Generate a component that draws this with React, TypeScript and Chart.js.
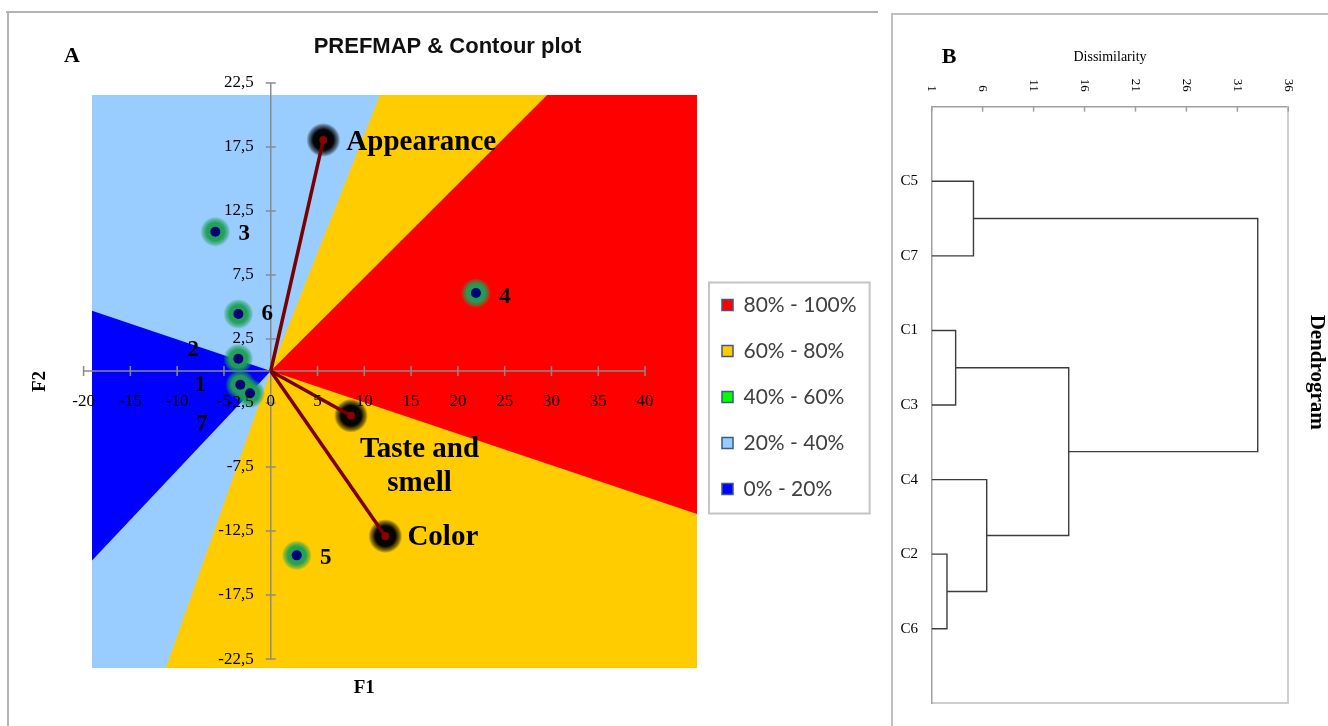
import React, { useEffect, useRef } from 'react';
import { Chart, registerables } from 'chart.js';

Chart.register(...registerables);

// ---------------- Panel A : PREFMAP & contour plot ----------------
const regionLabels = ['80% - 100%', '60% - 80%', '40% - 60%', '20% - 40%', '0% - 20%'];
const regionColors = ['#ff0000', '#ffcc00', '#00ff00', '#99ccff', '#0000ff'];

// contour region vertices (F1, F2)
const redF1 = [0, 29.6, 45.9, 45.9];
const redF2 = [0, 21.6, 21.6, -11.25];
const yellowF1 = [-19.1, -19.1, 45.9, 45.9];
const yellowF2 = [21.6, -23.2, -23.2, 21.6];
const greenF1: number[] = [];
const greenF2: number[] = [];
const lightBlueF1 = [-19.1, -19.1, -11.2, 0, 11.7];
const lightBlueF2 = [21.6, -23.2, -23.2, 0, 21.6];
const blueF1 = [-19.1, -19.1, 0];
const blueF2 = [4.7, -14.8, 0];

const consumerNames = ['1', '2', '3', '4', '5', '6', '7'];
const consumerF1 = [-3.25, -3.46, -5.92, 21.93, 2.78, -3.46, -2.21];
const consumerF2 = [-1.07, 0.96, 10.88, 6.09, -14.4, 4.45, -1.74];

const attributeLines = [['Appearance'], ['Taste and', 'smell'], ['Color']];
const attributeF1 = [5.62, 8.58, 12.25];
const attributeF2 = [18.05, -3.49, -12.9];

const f1Ticks = [-20, -15, -10, -5, 0, 5, 10, 15, 20, 25, 30, 35, 40];
const f2Ticks = [22.5, 17.5, 12.5, 7.5, 2.5, -2.5, -7.5, -12.5, -17.5, -22.5];

// label placement (pixels, relative to the point)
const consumerLabelDx = [-40, -45, 29, 29, 29, 29, -48];
const consumerLabelDy = [0, -9, 2, 4, 3, 0, 31];
const attributeLabelDx = [23, 68.5, 22];
const attributeLabelDy = [3, 34, 1];
const attributeLabelAlign = ['left', 'center', 'left'];

// ---------------- Panel B : dendrogram ----------------
const leafNames = ['C5', 'C7', 'C1', 'C3', 'C4', 'C2', 'C6'];
const dissimilarityTicks = [1, 6, 11, 16, 21, 26, 31, 36];
const mergeLeft = ['C2', 'C1', 'C5', 'C4', 'N2', 'N3'];
const mergeRight = ['C6', 'C3', 'C7', 'N1', 'N4', 'N5'];
const mergeDissimilarity = [2.5, 3.35, 5.1, 6.4, 14.45, 33];

const fmt = (v: number) => String(v).replace('.', ',');
const pts = (xs: number[], ys: number[]) => xs.map((x, i) => ({ x, y: ys[i] }));

const SERIF = '"Liberation Serif", "Times New Roman", serif';

function regionDataset(i: number, xs: number[], ys: number[], order: number): any {
  return {
    type: 'line',
    label: regionLabels[i],
    legendKey: i,
    data: pts(xs, ys),
    backgroundColor: regionColors[i],
    borderColor: regionColors[i],
    borderWidth: 0,
    pointRadius: 0,
    pointHoverRadius: 0,
    fill: 'shape',
    tension: 0,
    order,
  };
}

// soft halo drawn as a radial gradient centred on each point
function halo(rgb: string, radius: number, core: number) {
  return (c: any) => {
    const ch = c.chart;
    const raw = c.raw;
    if (!raw || !ch.scales || !ch.scales.x) return 'rgba(0,0,0,0)';
    const x = ch.scales.x.getPixelForValue(raw.x);
    const y = ch.scales.y.getPixelForValue(raw.y);
    if (!isFinite(x) || !isFinite(y)) return 'rgba(0,0,0,0)';
    const g = ch.ctx.createRadialGradient(x, y, 0, x, y, radius);
    g.addColorStop(0, `rgba(${rgb},1)`);
    g.addColorStop(core, `rgba(${rgb},0.97)`);
    g.addColorStop(0.85, `rgba(${rgb},0.45)`);
    g.addColorStop(1, `rgba(${rgb},0)`);
    return g;
  };
}

const panelAPlugin: any = {
  id: 'panelA',
  afterDatasetDraw(chart: any, args: any) {
    if (args.index !== 0) return;
    // axes through the origin, with crossing tick marks
    const ctx = chart.ctx;
    const xs = chart.scales.x;
    const ys = chart.scales.y;
    const x0 = xs.getPixelForValue(0);
    const y0 = ys.getPixelForValue(0);
    ctx.save();
    ctx.strokeStyle = '#8a8a8a';
    ctx.lineWidth = 1.5;
    ctx.beginPath();
    ctx.moveTo(xs.getPixelForValue(f1Ticks[0]), y0);
    ctx.lineTo(xs.getPixelForValue(f1Ticks[f1Ticks.length - 1]), y0);
    ctx.moveTo(x0, ys.getPixelForValue(f2Ticks[0]));
    ctx.lineTo(x0, ys.getPixelForValue(f2Ticks[f2Ticks.length - 1]));
    f1Ticks.forEach((v) => {
      const x = xs.getPixelForValue(v);
      ctx.moveTo(x, y0 - 5);
      ctx.lineTo(x, y0 + 5);
    });
    f2Ticks.forEach((v) => {
      const y = ys.getPixelForValue(v);
      ctx.moveTo(x0 - 5, y);
      ctx.lineTo(x0 + 5, y);
    });
    ctx.stroke();
    ctx.restore();
  },
  afterDatasetsDraw(chart: any) {
    const ctx = chart.ctx;
    ctx.save();
    ctx.fillStyle = '#000';
    ctx.textBaseline = 'middle';
    const cMeta = chart.getDatasetMeta(6);
    ctx.font = `bold 23px ${SERIF}`;
    ctx.textAlign = 'center';
    consumerNames.forEach((n, i) => {
      const p = cMeta.data[i];
      if (p) ctx.fillText(n, p.x + consumerLabelDx[i], p.y + consumerLabelDy[i]);
    });
    const aMeta = chart.getDatasetMeta(8);
    ctx.font = `bold 29px ${SERIF}`;
    attributeLines.forEach((lines, i) => {
      const p = aMeta.data[i];
      if (!p) return;
      ctx.textAlign = attributeLabelAlign[i];
      lines.forEach((t, k) => {
        ctx.fillText(t, p.x + attributeLabelDx[i], p.y + attributeLabelDy[i] + k * 34);
      });
    });
    ctx.restore();
  },
  afterDraw(chart: any) {
    const ctx = chart.ctx;
    const a = chart.chartArea;
    const xs = chart.scales.x;
    ctx.save();
    ctx.textBaseline = 'middle';
    ctx.textAlign = 'center';
    // title
    ctx.font = 'bold 22px "Liberation Sans", Arial, sans-serif';
    ctx.fillStyle = '#111';
    ctx.fillText('PREFMAP & Contour plot', 438.5, 33);
    ctx.fillStyle = '#000';
    // panel letter
    ctx.font = `bold 22px ${SERIF}`;
    ctx.fillText('A', 63, 42);
    // axis titles
    ctx.font = `bold 19px ${SERIF}`;
    const fx = (xs.getPixelForValue(f1Ticks[0]) + xs.getPixelForValue(f1Ticks[f1Ticks.length - 1])) / 2;
    ctx.fillText('F1', fx, a.bottom + 20);
    ctx.save();
    ctx.translate(31, (a.top + a.bottom) / 2);
    ctx.rotate(-Math.PI / 2);
    ctx.fillText('F2', 0, 0);
    ctx.restore();
    // legend frame
    const hb = chart.legend && chart.legend.legendHitBoxes;
    if (hb && hb.length) {
      let l = Infinity, t = Infinity, r = -Infinity, b = -Infinity;
      hb.forEach((h: any) => {
        l = Math.min(l, h.left);
        t = Math.min(t, h.top);
        r = Math.max(r, h.left + h.width);
        b = Math.max(b, h.top + h.height);
      });
      ctx.strokeStyle = '#c4c4c4';
      ctx.lineWidth = 2;
      ctx.strokeRect(l - 13, t - 12, r - l + 26, b - t + 26);
    }
    ctx.restore();
  },
};

function PanelA() {
  const ref = useRef<HTMLCanvasElement>(null);
  useEffect(() => {
    const canvas = ref.current;
    if (!canvas) return;
    const m = document.createElement('canvas').getContext('2d') as CanvasRenderingContext2D;
    const legendFont = 21;
    const legendPad = 25;
    const boxW = 11;
    m.font = `${legendFont}px Lato`;
    const tw = Math.max(...regionLabels.map((t) => m.measureText(t).width));
    const chartRight = 688;
    const padRight = 868 - chartRight - (legendPad + boxW + legendFont / 2 + tw + 10);

    const datasets: any[] = [
      regionDataset(0, redF1, redF2, 7),
      regionDataset(1, yellowF1, yellowF2, 10),
      regionDataset(2, greenF1, greenF2, 6),
      regionDataset(3, lightBlueF1, lightBlueF2, 9),
      regionDataset(4, blueF1, blueF2, 8),
      {
        type: 'scatter', label: 'consumers-glow', legendKey: -1,
        data: pts(consumerF1, consumerF2), pointRadius: 15, pointHoverRadius: 15,
        backgroundColor: halo('30,160,85', 15, 0.6), borderWidth: 0, order: 5,
      },
      {
        type: 'scatter', label: 'consumers', legendKey: -1,
        data: pts(consumerF1, consumerF2), pointRadius: 5, pointHoverRadius: 5,
        backgroundColor: '#00007a', borderWidth: 0, order: 1,
      },
      {
        type: 'scatter', label: 'attributes-glow', legendKey: -1,
        data: pts(attributeF1, attributeF2), pointRadius: 17, pointHoverRadius: 17,
        backgroundColor: halo('0,0,0', 17, 0.6), borderWidth: 0, order: 4,
      },
      {
        type: 'scatter', label: 'attributes', legendKey: -1,
        data: pts(attributeF1, attributeF2), pointRadius: 4, pointHoverRadius: 4,
        backgroundColor: '#8b0000', borderWidth: 0, order: 2,
      },
      ...attributeF1.map((x, i) => ({
        type: 'line', label: 'vector ' + i, legendKey: -1,
        data: [{ x: 0, y: 0 }, { x, y: attributeF2[i] }],
        borderColor: '#7a0000', borderWidth: 3.5, pointRadius: 0, pointHoverRadius: 0,
        fill: false, tension: 0, order: 3,
      })),
    ];

    const chart = new Chart(canvas, {
      type: 'scatter',
      data: { datasets },
      options: {
        responsive: false,
        animation: false,
        events: [],
        layout: { padding: { left: 83, top: 81, right: padRight, bottom: 58 } },
        scales: {
          x: {
            type: 'linear', min: -19.1, max: 45.55, position: { y: 0 } as any,
            afterBuildTicks: (s: any) => { s.ticks = f1Ticks.map((v) => ({ value: v })); },
            ticks: {
              z: 1, autoSkip: false, maxRotation: 0, minRotation: 0, padding: 12, color: '#000',
              font: { family: SERIF, size: 17 },
              callback: (v: any) => fmt(Number(v)),
            },
            grid: { display: false },
            border: { display: false },
          },
          y: {
            type: 'linear', min: -23.2, max: 21.56, position: { x: 0 } as any,
            afterBuildTicks: (s: any) => { s.ticks = f2Ticks.map((v) => ({ value: v })); },
            ticks: {
              z: 1, autoSkip: false, padding: 0, color: '#000',
              font: { family: SERIF, size: 17 },
              callback: (v: any) => fmt(Number(v)) + '    ',
            },
            grid: { display: false },
            border: { display: false },
          },
        },
        plugins: {
          tooltip: { enabled: false },
          title: { display: false },
          legend: {
            display: true,
            position: 'right',
            align: 'center',
            title: { display: true, text: '', font: { size: 12 }, padding: { top: 0, bottom: 16.6 } },
            labels: {
              boxWidth: boxW,
              boxHeight: 11,
              padding: legendPad,
              color: '#404040',
              font: { family: 'Lato', size: legendFont },
              generateLabels: (ch: any) => {
                const items = (Chart.defaults.plugins.legend.labels as any).generateLabels(ch);
                return items
                  .filter((it: any) => (ch.data.datasets[it.datasetIndex] as any).legendKey >= 0)
                  .sort((p: any, q: any) => p.datasetIndex - q.datasetIndex)
                  .map((it: any) => ({
                    ...it,
                    fillStyle: regionColors[it.datasetIndex],
                    strokeStyle: '#3d5a86',
                    lineWidth: 1.5,
                    hidden: false,
                  }));
              },
            },
          },
        },
      } as any,
      plugins: [panelAPlugin],
    });
    return () => chart.destroy();
  }, []);
  return <canvas ref={ref} width={868} height={712} style={{ width: 868, height: 712, display: 'block' }} />;
}

function buildDendrogram(): any[] {
  const pos: Record<string, { y: number; h: number }> = {};
  leafNames.forEach((n, i) => { pos[n] = { y: i + 1, h: dissimilarityTicks[0] }; });
  return mergeLeft.map((aName, i) => {
    const pa = pos[aName];
    const pb = pos[mergeRight[i]];
    const h = mergeDissimilarity[i];
    pos['N' + (i + 1)] = { y: (pa.y + pb.y) / 2, h };
    return {
      type: 'line',
      data: [{ x: pa.h, y: pa.y }, { x: h, y: pa.y }, { x: h, y: pb.y }, { x: pb.h, y: pb.y }],
      borderColor: '#3c3c3c', borderWidth: 1.4, pointRadius: 0, pointHoverRadius: 0,
      fill: false, tension: 0,
    };
  });
}

const panelBPlugin: any = {
  id: 'panelB',
  afterDraw(chart: any) {
    const ctx = chart.ctx;
    const a = chart.chartArea;
    const xs = chart.scales.x;
    ctx.save();
    ctx.strokeStyle = '#a0a0a0';
    ctx.lineWidth = 1.5;
    ctx.fillStyle = '#000';
    ctx.font = `13px ${SERIF}`;
    ctx.textAlign = 'right';
    ctx.textBaseline = 'middle';
    dissimilarityTicks.forEach((v) => {
      const x = xs.getPixelForValue(v);
      ctx.beginPath();
      ctx.moveTo(x, a.top);
      ctx.lineTo(x, a.top + 5);
      ctx.stroke();
      ctx.save();
      ctx.translate(x, a.top - 15);
      ctx.rotate(Math.PI / 2);
      ctx.fillText(String(v), 0, 0);
      ctx.restore();
    });
    ctx.save();
    ctx.translate(chart.width - 11.3, a.top + (a.bottom - a.top) * 0.445);
    ctx.rotate(Math.PI / 2);
    ctx.textAlign = 'center';
    ctx.font = `bold 21px ${SERIF}`;
    ctx.fillText('Dendrogram', 0, 0);
    ctx.restore();
    ctx.textAlign = 'center';
    ctx.font = `bold 22px ${SERIF}`;
    ctx.fillText('B', 56, 43);
    ctx.restore();
  },
};

function PanelB() {
  const ref = useRef<HTMLCanvasElement>(null);
  useEffect(() => {
    const canvas = ref.current;
    if (!canvas) return;
    const frame = (color: string, width: number) => ({
      grid: { display: true, drawOnChartArea: false, drawTicks: false },
      border: { display: true, color, width },
    });
    const chart = new Chart(canvas, {
      type: 'scatter',
      data: { datasets: buildDendrogram() },
      options: {
        responsive: false,
        animation: false,
        events: [],
        layout: { padding: 0 },
        scales: {
          x: {
            type: 'linear', axis: 'x', position: 'top', min: 1, max: 36,
            afterBuildTicks: (s: any) => { s.ticks = dissimilarityTicks.map((v) => ({ value: v })); },
            afterFit: (s: any) => { s.height = 92.7; },
            ticks: { display: false },
            title: {
              display: true, text: 'Dissimilarity', color: '#000',
              font: { family: SERIF, size: 14 }, padding: { top: 34.9, bottom: 0 },
            },
            ...frame('#a0a0a0', 1.5),
          },
          x2: {
            type: 'linear', axis: 'x', position: 'bottom', min: 1, max: 36,
            afterFit: (s: any) => { s.height = 21.7; },
            ticks: { display: false },
            ...frame('#cfcfcf', 2),
          },
          y: {
            type: 'linear', axis: 'y', position: 'left', min: 0, max: 8, reverse: true,
            afterBuildTicks: (s: any) => { s.ticks = leafNames.map((_, i) => ({ value: i + 1 })); },
            afterFit: (s: any) => { s.width = 38.7; },
            ticks: {
              autoSkip: false, padding: 13.7, color: '#000',
              font: { family: SERIF, size: 15 },
              callback: (v: any) => leafNames[Number(v) - 1] ?? '',
            },
            ...frame('#a0a0a0', 1.5),
          },
          y2: {
            type: 'linear', axis: 'y', position: 'right', min: 0, max: 8, reverse: true,
            afterFit: (s: any) => { s.width = 39.7; },
            ticks: { display: false },
            ...frame('#cfcfcf', 2),
          },
        },
        plugins: {
          tooltip: { enabled: false },
          legend: { display: false },
        },
      } as any,
      plugins: [panelBPlugin],
    });
    return () => chart.destroy();
  }, []);
  return <canvas ref={ref} width={435} height={712} style={{ width: 435, height: 712, display: 'block' }} />;
}

export default function App() {
  const line = (left: number, top: number, width: number, height: number, color: string) => (
    <div style={{ position: 'absolute', left, top, width, height, background: color }} />
  );
  return (
    <div style={{ position: 'absolute', left: 0, top: 0, width: 1328, height: 726, background: '#fff', overflow: 'hidden' }}>
      {line(6, 11, 872, 2, '#b3b3b3')}
      {line(7, 11, 2, 715, '#b3b3b3')}
      {line(891, 13, 437, 2, '#c0c0c0')}
      {line(891, 13, 2, 713, '#c0c0c0')}
      <div style={{ position: 'absolute', left: 9, top: 14 }}>
        <PanelA />
      </div>
      <div style={{ position: 'absolute', left: 893, top: 14 }}>
        <PanelB />
      </div>
    </div>
  );
}
